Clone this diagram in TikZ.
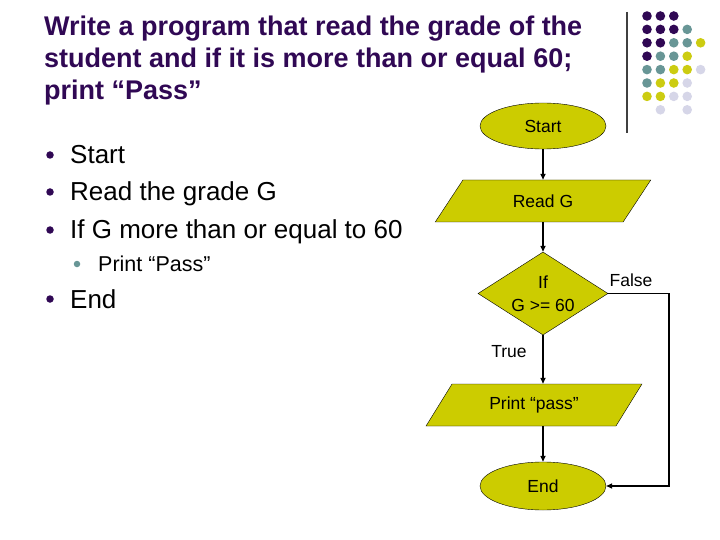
\documentclass[tikz,border=0pt]{standalone}
\usepackage{fontspec}
\setmainfont{Liberation Sans}
\usetikzlibrary{positioning, shapes.geometric, arrows.meta}
\definecolor{SlidePurple}{RGB}{48,8,84}
\definecolor{SlideTeal}{RGB}{104,150,150}
\definecolor{SlideYellow}{RGB}{204,204,17}
\definecolor{SlideLavender}{RGB}{214,214,232}
\definecolor{ChartYellow}{RGB}{204,204,0}

\begin{document}
\begin{tikzpicture}[x=1pt, y=-1pt,
  every node/.style={font=\fontsize{17.5}{23}\selectfont},
  term/.style={ellipse, draw=black, thin, fill=ChartYellow, minimum width=126pt, minimum height=46pt, inner sep=0pt},
  io/.style={trapezium, trapezium left angle=51, trapezium right angle=129, trapezium stretches=true, draw=black, thin, fill=ChartYellow, minimum width=216pt, minimum height=42pt, inner sep=0pt},
  decision/.style={diamond, aspect=1.57, draw=black, thin, fill=ChartYellow, minimum width=130pt, minimum height=83pt, inner sep=0pt, align=center},
  arrow/.style={-{Triangle[length=6pt, width=5pt]}, line width=1.6pt},
  title/.style={anchor=base west, inner sep=0pt, text=SlidePurple, font=\fontsize{27}{31}\selectfont\bfseries},
  item/.style={anchor=base west, inner sep=0pt, font=\fontsize{26}{30}\selectfont},
  subitem/.style={anchor=base west, inner sep=0pt, font=\fontsize{21.5}{26}\selectfont},
  dot/.style={circle, fill=#1, inner sep=0pt, minimum size=9.6pt}
]
    \useasboundingbox (0,0) rectangle (720,540);

    % title
    \node[title] (t1) at (44,36) {Write a program that read the grade of the};
    \node[title] (t2) at (44,68) {student and if it is more than or equal 60;};
    \node[title] (t3) at (44,100) {print “Pass”};

    % bullet list
    \node[dot=SlidePurple, minimum size=7.5pt] (b1) at (50,155) {};
    \node[dot=SlidePurple, minimum size=7.5pt] (b2) at (50,192) {};
    \node[dot=SlidePurple, minimum size=7.5pt] (b3) at (50,230) {};
    \node[dot=SlideTeal, minimum size=6.5pt] (b4) at (77,264) {};
    \node[dot=SlidePurple, minimum size=7.5pt] (b5) at (50,299) {};
    \node[item] (i1) at (70,164) {Start};
    \node[item] (i2) at (70,201) {Read the grade G};
    \node[item] (i3) at (70,239) {If G more than or equal to 60};
    \node[subitem] (i4) at (98,271) {Print “Pass”};
    \node[item] (i5) at (70,308) {End};

    % corner decoration
    \draw[line width=1.2pt, black!75] (627,12) -- (627,133);
    \foreach \c/\r/\clr in {0/0/SlidePurple, 1/0/SlidePurple, 2/0/SlidePurple,
        0/1/SlidePurple, 1/1/SlidePurple, 2/1/SlidePurple, 3/1/SlideTeal,
        0/2/SlidePurple, 1/2/SlidePurple, 2/2/SlideTeal, 3/2/SlideTeal, 4/2/SlideYellow,
        0/3/SlidePurple, 1/3/SlideTeal, 2/3/SlideTeal, 3/3/SlideYellow,
        0/4/SlideTeal, 1/4/SlideTeal, 2/4/SlideYellow, 3/4/SlideYellow, 4/4/SlideLavender,
        0/5/SlideTeal, 1/5/SlideYellow, 2/5/SlideYellow, 3/5/SlideLavender,
        0/6/SlideYellow, 1/6/SlideYellow, 2/6/SlideLavender, 3/6/SlideLavender,
        1/7/SlideLavender, 3/7/SlideLavender}
      \node[dot=\clr] at ({647+13.4*\c},{16+13.4*\r}) {};

    % flowchart
    \node[term] (start) at (543,126) {Start};
    \node[io] (read) at (543,201) {Read G};
    \node[decision] (test) at (543,293.5) {If\\G >= 60};
    \node[io, trapezium left angle=49, trapezium right angle=131] (print) at (534,405) {Print “pass”};
    \node[term, minimum height=48pt] (finish) at (543,486) {End};
    \coordinate (back) at (669,486);
    \node (falselbl) at (631,280) {False};
    \node (truelbl) at (509,352) {True};

    \draw[arrow] (start) -- (read);
    \draw[arrow] (read) -- (test);
    \draw[arrow] (test.south) -- (test.south |- print.north);
    \draw[arrow] (finish |- print.south) -- (finish.north);
    \draw[arrow] (test.east) -| (back) -- (finish.east);
\end{tikzpicture}
\end{document}
